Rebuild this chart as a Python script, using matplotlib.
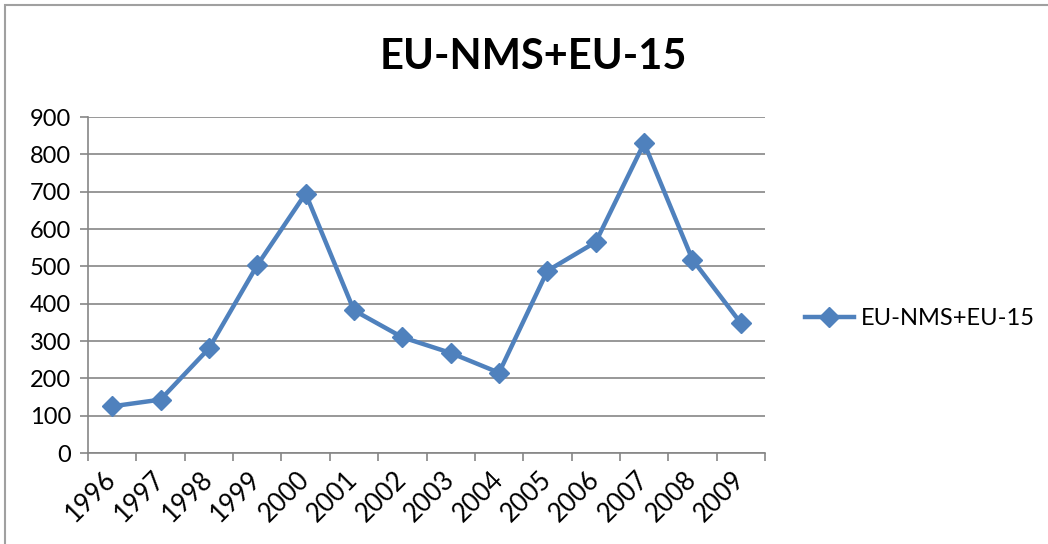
import numpy as np
import matplotlib.pyplot as plt
from matplotlib.patches import Rectangle

# 数据
years = ["1996", "1997", "1998", "1999", "2000", "2001", "2002",
         "2003", "2004", "2005", "2006", "2007", "2008", "2009"]
values = [125, 143, 280, 503, 695, 382, 310, 268, 215, 488, 565, 830, 518, 348]
series_name = "EU-NMS+EU-15"

plt.rcParams["font.family"] = ["Lato", "DejaVu Sans"]

line_color = "#4F81BD"
axis_color = "#868686"

fig = plt.figure(figsize=(10.48, 5.44), dpi=100)

# 外边框
fig.patches.append(Rectangle((5 / 1048, -0.05), 1.1, (539 / 544) + 0.05,
                             transform=fig.transFigure, fill=False,
                             edgecolor="#A0A0A0", linewidth=1.5))

ax = fig.add_axes([88 / 1048, (544 - 453) / 544, 677 / 1048, 336 / 544])

x = np.arange(len(years)) + 0.5
ax.plot(x, values, color=line_color, linewidth=3.2, marker="D",
        markersize=10.5, label=series_name, zorder=3)

ax.set_xlim(0, len(years))
ax.set_ylim(0, 900)
ax.set_yticks(np.arange(0, 901, 100))
ax.yaxis.grid(True, color=axis_color, linewidth=1.2)
ax.set_axisbelow(True)

# x 轴：主刻度在类别边界，标签在类别中心
ax.set_xticks(np.arange(0, len(years) + 1))
ax.set_xticklabels([])
ax.set_xticks(x, minor=True)
ax.set_xticklabels(years, minor=True, rotation=45, ha="right", va="center",
                   rotation_mode="anchor", fontsize=18.5)
ax.tick_params(axis="x", which="minor", length=0, pad=16)
ax.tick_params(axis="x", which="major", length=6, width=1.2, color=axis_color)
ax.tick_params(axis="y", length=6, width=1.2, color=axis_color,
               labelsize=17, pad=6)

for side in ["top", "right"]:
    ax.spines[side].set_visible(False)
for side in ["left", "bottom"]:
    ax.spines[side].set_color(axis_color)
    ax.spines[side].set_linewidth(1.2)

fig.text(533 / 1048, 1 - 57 / 544, series_name, ha="center", va="center",
         fontsize=30, fontweight="bold")

ax.legend(loc="center left", bbox_to_anchor=(1.027, 0.4), frameon=False,
          fontsize=17, handlelength=2.1, handletextpad=0.3)

fig.savefig("out.png", dpi=100)
